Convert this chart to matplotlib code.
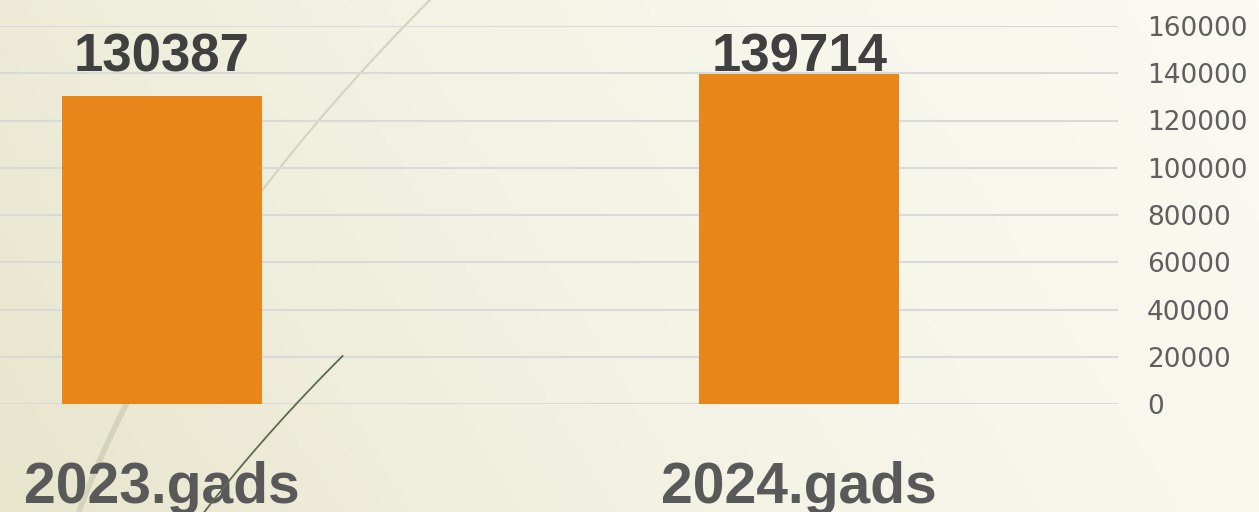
import matplotlib
matplotlib.use("Agg")
import matplotlib.pyplot as plt
import numpy as np
from matplotlib.colors import LinearSegmentedColormap
from matplotlib.lines import Line2D

categories = ["2023.gads", "2024.gads"]
values = [130387, 139714]
yticks = [0, 20000, 40000, 60000, 80000, 100000, 120000, 140000, 160000]

bar_color = "#E8861A"
label_color = "#404040"
cat_color = "#595959"

fig = plt.figure(figsize=(12.59, 5.12), dpi=100)
W, H = 1259, 512

# background gradient (beige on the left, almost white on the right)
bg = fig.add_axes([0, 0, 1, 1], zorder=-2)
gx, gy = np.meshgrid(np.linspace(0, 1, 300), np.linspace(0, 1, 120))
grad = np.clip(0.8 * gx + 0.2 * gy, 0, 1)
cmap = LinearSegmentedColormap.from_list("bg", ["#E8E5CD", "#F1F0DF", "#F7F6EB", "#FBFAF3"])
bg.imshow(grad, cmap=cmap, aspect="auto", origin="lower", extent=[0, 1, 0, 1])
bg.axis("off")


def swoosh(pts, y0, y1, **kw):
    # smooth decorative curve through a few picked pixel points
    py = np.array([p[1] for p in pts], float)
    px = np.array([p[0] for p in pts], float)
    c = np.polyfit(py, px, 2)
    yy = np.linspace(y0, y1, 60)
    xx = np.polyval(c, yy)
    return Line2D(xx / W, 1 - yy / H, **kw)


arc = [(431, 0), (359, 73), (261, 192), (127, 405), (78, 512)]
fig.add_artist(swoosh(arc, 0, 300, color="#D3D3BE", lw=1.5, zorder=-1))
fig.add_artist(swoosh(arc, 300, 512, color="#D3D3BE", lw=4, zorder=-1,
                      solid_capstyle="butt"))

ax = fig.add_axes([0, 108 / H, 1118 / W, 378 / H])
ax.patch.set_alpha(0)
x = np.arange(len(categories))
ax.bar(x, values, width=0.314, color=bar_color, zorder=3)

ax.set_xlim(-0.254, 1.5)
ax.set_ylim(0, 160000)
ax.set_yticks(yticks)
ax.set_yticklabels([str(t) for t in yticks])
ax.yaxis.tick_right()
ax.tick_params(axis="y", length=0, pad=21, labelsize=19, labelcolor="#5f5f5f")
ax.tick_params(axis="x", length=0, labelbottom=False)
ax.grid(axis="y", color="#D9D9D9", lw=1.5, zorder=0)
for s in ax.spines.values():
    s.set_visible(False)
for lab in ax.get_yticklabels():
    lab.set_fontfamily("DejaVu Sans")
    lab.set_horizontalalignment("left")

label_y = max(values) + 1000
for xi, v in zip(x, values):
    ax.text(xi, label_y, str(v), ha="center", va="baseline", fontsize=38,
            fontweight="bold", family="Liberation Sans", color=label_color, zorder=4)

trans = ax.get_xaxis_transform()
for xi, c in zip(x, categories):
    ax.text(xi, -99 / 378, c, transform=trans, ha="center", va="baseline",
            fontsize=41, fontweight="bold", family="Liberation Sans",
            color=cat_color, clip_on=False, zorder=5)

# dark stem on top of the text
stem = [(343, 356), (296, 403), (250, 457), (204, 512)]
fig.add_artist(swoosh(stem, 356, 512, color="#5E6B4A", lw=1.3, zorder=10))

fig.savefig("out.png", dpi=100)
